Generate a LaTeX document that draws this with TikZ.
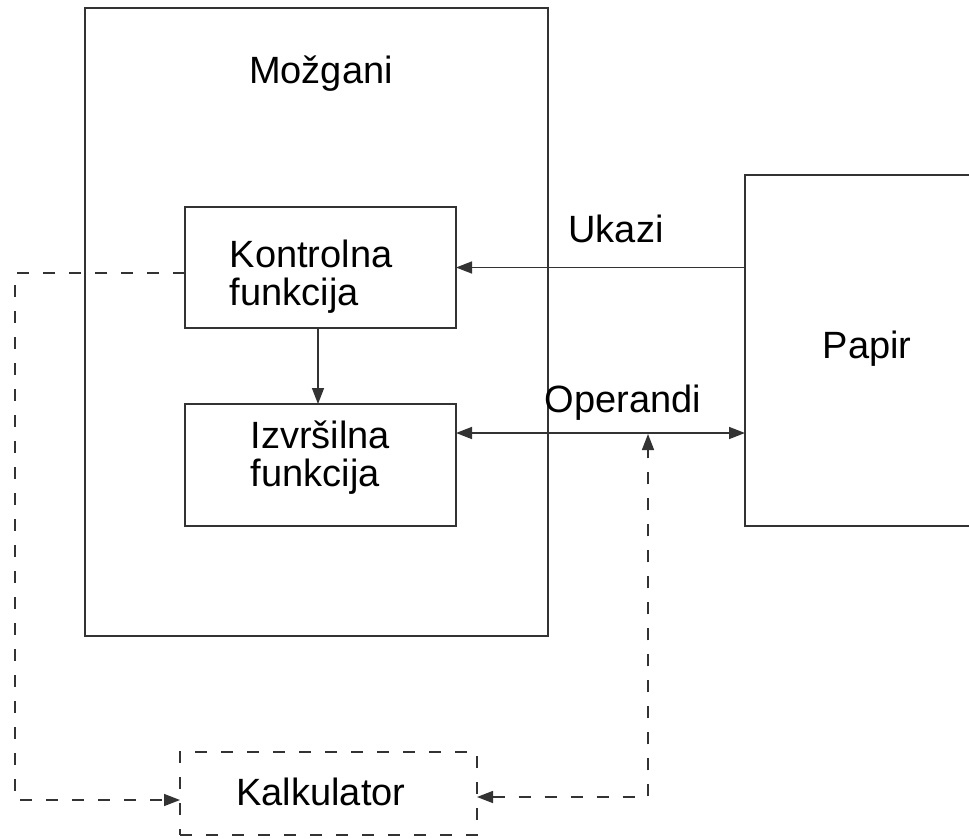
\documentclass[tikz,border=0pt]{standalone}
\usepackage{fontspec}
\setmainfont{Liberation Sans}
\usetikzlibrary{arrows.meta,calc}
\begin{document}
\begin{tikzpicture}[x=1pt,y=-1pt,
  line width=1.5pt,
  box/.style={draw=black!80, line width=1.5pt, inner sep=0pt, outer sep=0pt},
  dbox/.style={box, dash pattern=on 12pt off 14pt},
  lbl/.style={inner sep=0pt, text=black, anchor=base, font=\fontsize{38}{38}\selectfont},
  conn/.style={draw=black!80},
  arr/.style={conn, -{Triangle[length=16pt,width=12pt]}},
  darr/.style={conn, {Triangle[length=16pt,width=12pt]}-{Triangle[length=16pt,width=12pt]}},
  dashline/.style={dash pattern=on 12pt off 14pt}]
\useasboundingbox (0,0) rectangle (969,838);
\clip (0,0) rectangle (969,838);

% boxes
\node[box, minimum width=463pt, minimum height=628pt] (mozg) at (316.5,322) {};
\node[box, minimum width=271pt, minimum height=121pt] (kontrol) at (320.5,267.5) {};
\node[box, minimum width=271pt, minimum height=122pt] (izv) at (320.5,465) {};
\node[box, minimum width=255pt, minimum height=351pt] (papir) at (872.5,350.5) {};
\node[dbox, minimum width=297pt, minimum height=83pt] (kalk) at (328.5,793.5) {};

% texts (multi-line labels are anchored at the baseline of their last line)
\node[lbl] (tmozg) at (321,83) {Možgani};
\node[lbl, align=left, anchor=base west] (tkontrol) at (229,305) {Kontrolna\\funkcija};
\node[lbl, align=left, anchor=base west] (tizv) at (250,486) {Izvršilna\\funkcija};
\node[lbl] (tpapir) at (867,358) {Papir};
\node[lbl] (tkalk) at (321,805) {Kalkulator};
\node[lbl] (tukazi) at (616,242) {Ukazi};
\node[lbl] (toper) at (623,412) {Operandi};

% solid connectors
\draw[arr] (papir.west |- kontrol.east) -- (kontrol.east);
\draw[darr] ([yshift=32pt]izv.east) -- ([yshift=32pt]izv.east -| papir.west);
\draw[arr] ([xshift=-2.5pt]kontrol.south) -- ([xshift=-2.5pt]izv.north);

% dashed connectors to the calculator
\coordinate (ltop) at (15,273);
\draw[dashline, arr] ([yshift=-5.5pt]kontrol.west) -- (ltop) |- ([yshift=-6.5pt]kalk.west);
\coordinate (opmid) at (648,434);
\draw[dashline, darr] ([yshift=-3.5pt]kalk.east) -| (opmid);
\end{tikzpicture}
\end{document}
